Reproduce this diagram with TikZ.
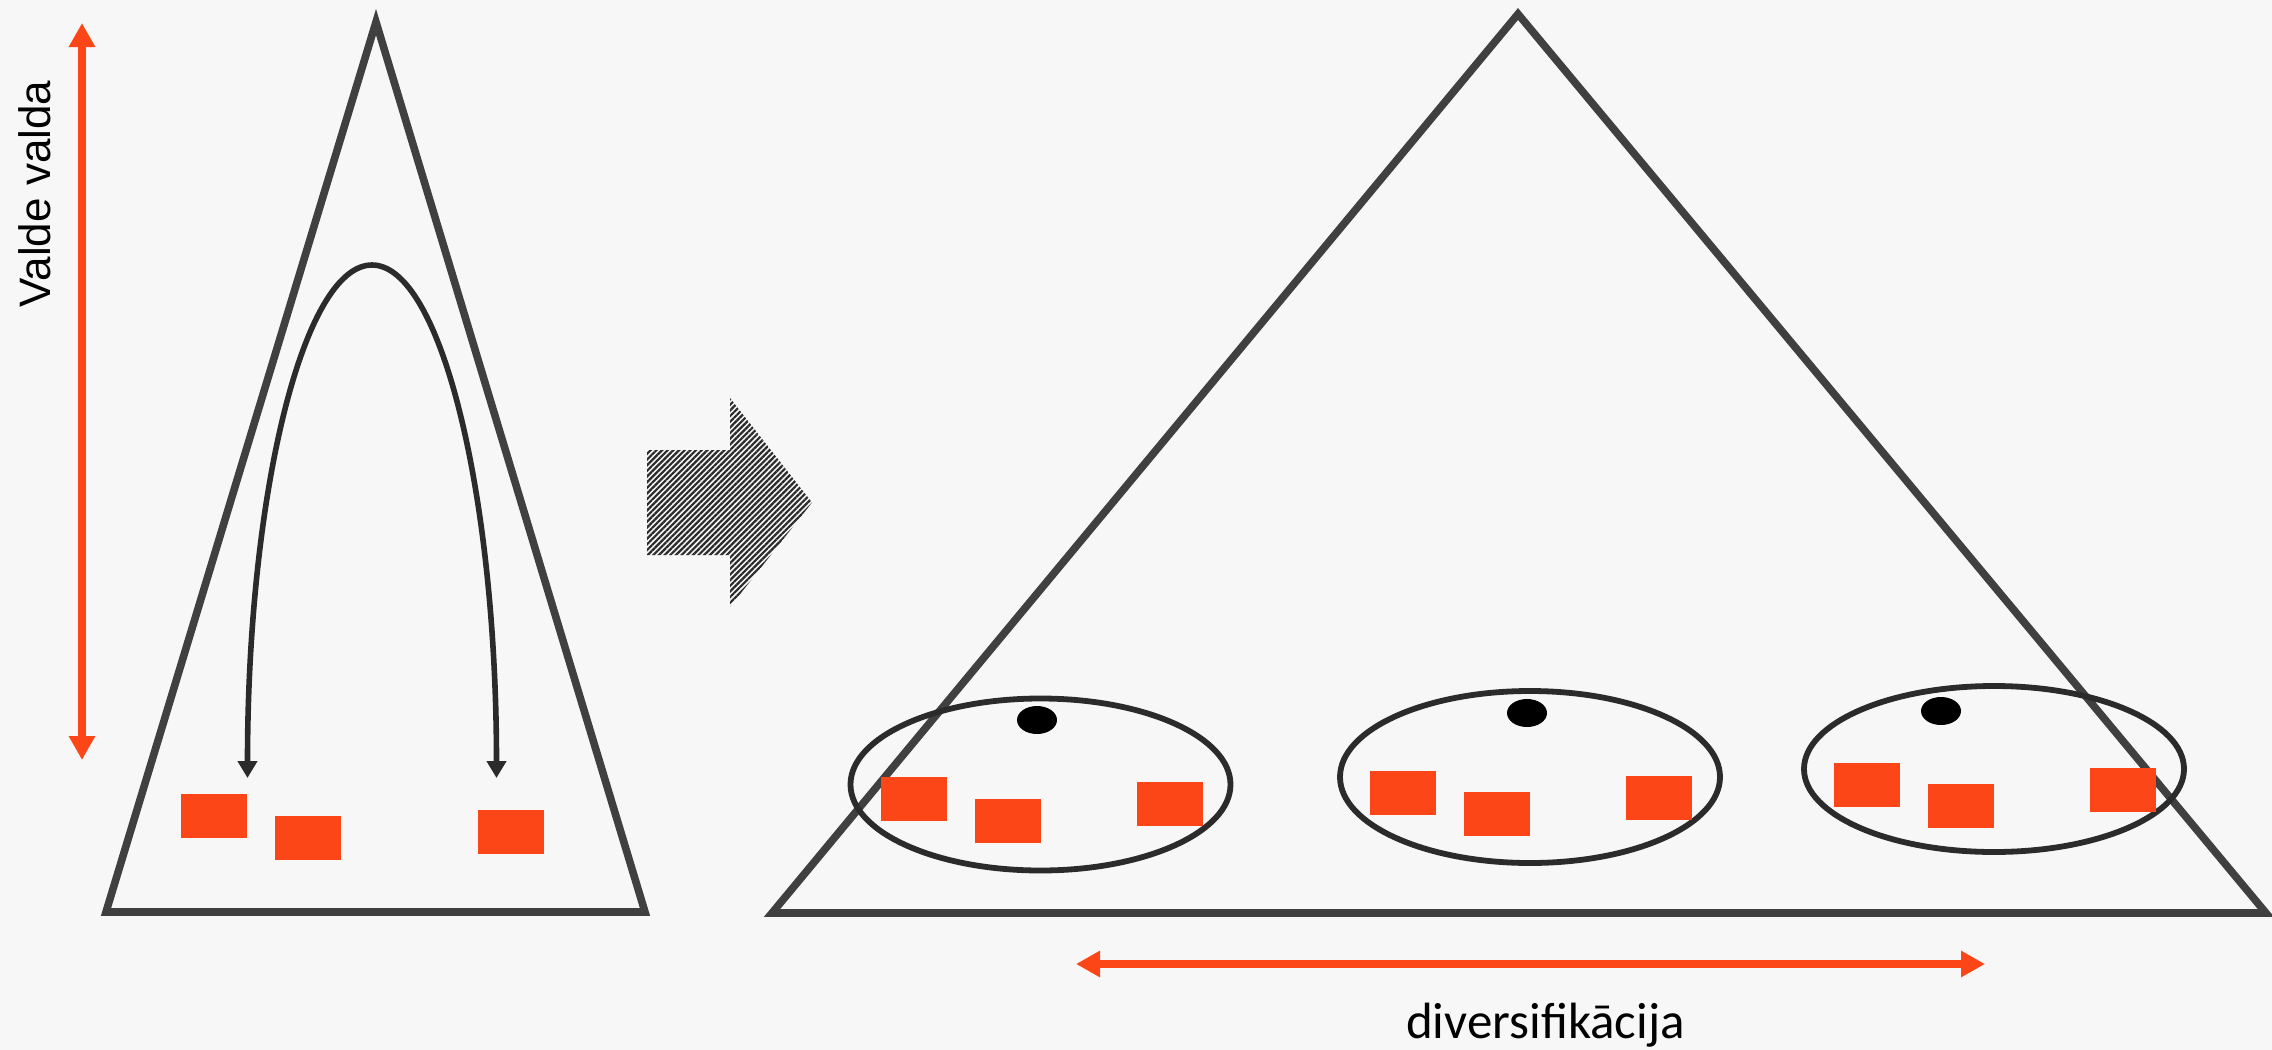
\documentclass[tikz,border=0pt]{standalone}
\usepackage{fontspec}
\newfontfamily\arialf{Liberation Sans}
\newfontfamily\calibrif{Carlito}
\usetikzlibrary{arrows.meta,shapes.geometric,patterns.meta}
\definecolor{accent}{RGB}{252,70,24}
\definecolor{frame}{RGB}{64,64,64}
\definecolor{ink}{RGB}{43,43,43}
\definecolor{bg}{RGB}{247,247,247}
\tikzset{
  box/.style={rectangle, fill=accent, draw=none, inner sep=0pt, minimum width=33pt, minimum height=22pt},
  dot/.style={ellipse, fill=black, draw=none, inner sep=0pt, minimum width=20pt, minimum height=14pt},
  group/.style={ellipse, draw=ink, line width=2.9pt, inner sep=0pt, minimum width=190pt, minimum height=86pt},
  tri/.style={draw=frame, line width=3.8pt, line join=miter},
  redarrow/.style={draw=accent, line width=4.2pt, {Triangle[length=12pt,width=12.5pt]}-{Triangle[length=12pt,width=12.5pt]}},
  curvearrow/.style={draw=ink, line width=2.8pt, {Triangle[length=8.5pt,width=9.5pt]}-{Triangle[length=8.5pt,width=9.5pt]}},
}
\begin{document}
\begin{tikzpicture}[x=0.5pt,y=-0.5pt]
\fill[bg] (0,0) rectangle (2272,1050);
\useasboundingbox (0,0) rectangle (2272,1050);

% left triangle
\coordinate (lA) at (376,22);
\coordinate (lB) at (106,912);
\coordinate (lC) at (645,912);
\draw[tri] (lA) -- (lB) -- (lC) -- cycle;

% vertical red arrow and label
\coordinate (vtop) at (82,23);
\coordinate (vbot) at (82,760);
\draw[redarrow] (vtop) -- (vbot);
\node[rotate=90, anchor=base, inner sep=0pt, font=\arialf\fontsize{22pt}{26pt}\selectfont] (vlabel) at (50,194) {Valde valda};

% curved arrow
\coordinate (arcL) at (247.5,778);
\coordinate (arcTop) at (372,265);
\coordinate (arcR) at (496.5,778);
\draw[curvearrow] (arcL) .. controls (247.5,494.7) and (303.2,265) .. (arcTop) .. controls (440.8,265) and (496.5,494.7) .. (arcR);

% boxes left triangle
\node[box] (l1) at (214,816) {};
\node[box] (l2) at (308,838) {};
\node[box] (l3) at (511,832) {};

% hatched arrow
\path[pattern={Lines[angle=45,distance=2pt,line width=1.1pt]}, pattern color=ink]
  (647,450) -- (730,450) -- (730,398) -- (812,502.5) -- (730,607) -- (730,555) -- (647,555) -- cycle;

% right triangle
\coordinate (rA) at (1518,14);
\coordinate (rB) at (772,913);
\coordinate (rC) at (2266,913);
\draw[tri] (rA) -- (rB) -- (rC) -- cycle;

% groups
\node[group, minimum height=86pt] (g1) at (1040.5,784.5) {};
\node[group, minimum height=86pt] (g2) at (1530,777) {};
\node[group, minimum height=83pt] (g3) at (1994,769) {};

\node[dot] (d1) at (1037,720) {};
\node[dot] (d2) at (1527,713) {};
\node[dot] (d3) at (1941,711) {};

\node[box] (a1) at (914,799) {};
\node[box] (a2) at (1008,821) {};
\node[box] (a3) at (1170,804) {};
\node[box] (b1) at (1403,793) {};
\node[box] (b2) at (1497,814) {};
\node[box] (b3) at (1659,798) {};
\node[box] (c1) at (1867,785) {};
\node[box] (c2) at (1961,806) {};
\node[box] (c3) at (2123,790) {};

% horizontal red arrow and label
\coordinate (hL) at (1076,964);
\coordinate (hR) at (1985,964);
\draw[redarrow] (hL) -- (hR);
\node[anchor=base, inner sep=0pt, font=\calibrif\fontsize{25.5pt}{30pt}\selectfont] (hlabel) at (1545.5,1038) {diversifikācija};
\end{tikzpicture}
\end{document}
